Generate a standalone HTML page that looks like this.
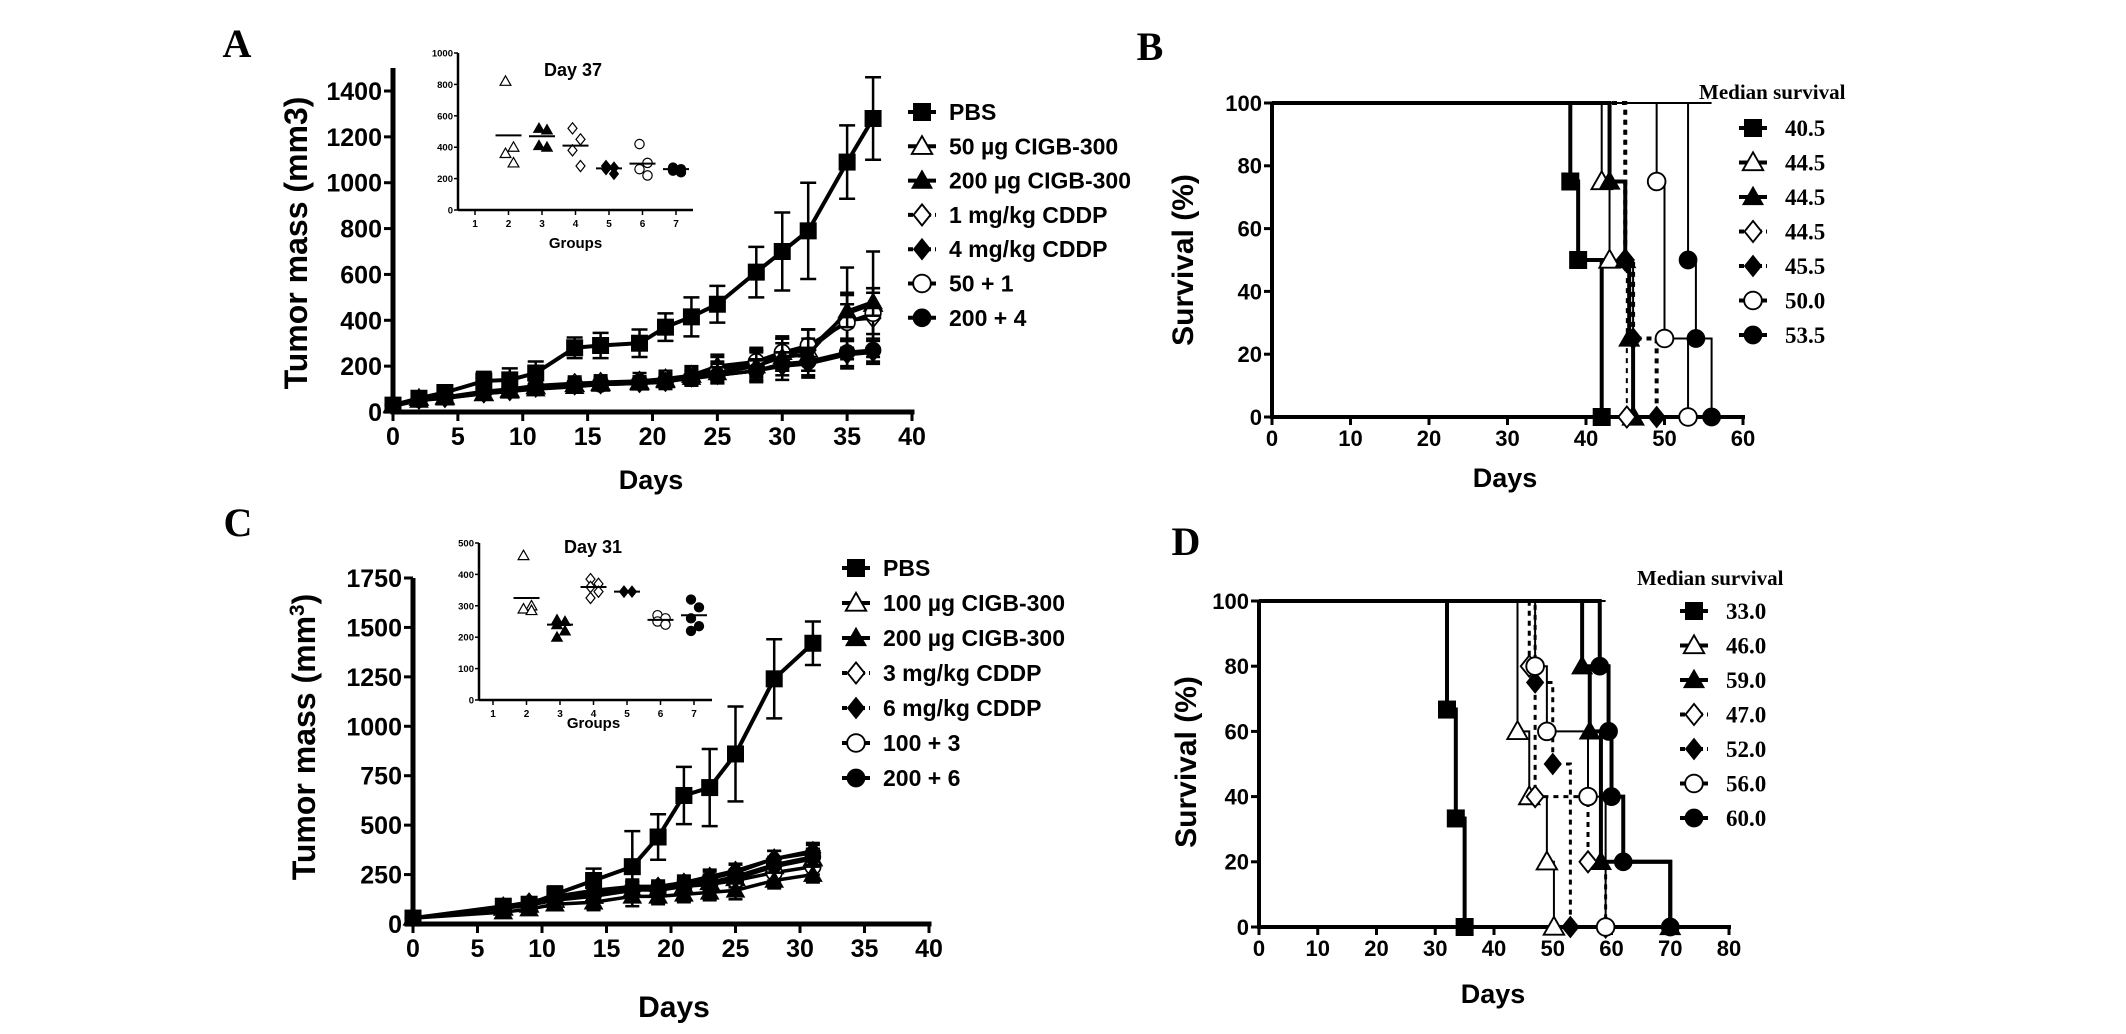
<!DOCTYPE html>
<html><head><meta charset="utf-8"><style>
html,body{margin:0;padding:0;background:#fff;}
svg{display:block;}
text{font-family:"Liberation Sans",sans-serif;font-weight:bold;fill:#000;}
.serif{font-family:"Liberation Serif",serif;}
</style></head><body>
<svg id="fig" width="2126" height="1034" viewBox="0 0 2126 1034" xmlns="http://www.w3.org/2000/svg">
<rect x="0" y="0" width="2126" height="1034" fill="#fff"/>
</svg>
<script>
// ---------- Panel A data ----------
const A_days=[0,2,4,7,9,11,14,16,19,21,23,25,28,30,32,35,37];
const A_pbs=[30,60,85,135,140,170,280,290,300,370,415,470,610,700,790,1090,1280];
const A_pbs_err=[10,15,20,40,50,50,45,55,60,60,85,80,110,170,210,160,180];
const A_ug50=[30,60,65,80,95,110,120,125,130,140,160,200,220,260,270,430,470];
const A_ug50_err=[10,15,15,20,25,25,25,25,25,30,35,50,60,70,90,200,230];
const A_ug200=[25,50,60,80,90,100,110,120,125,135,150,170,200,240,250,440,480];
const A_ug200_err=[10,10,15,20,20,25,25,25,25,30,35,40,60,60,70,70,60];
const A_mg1=[30,55,65,85,100,115,125,130,135,145,160,190,210,250,270,400,410];
const A_mg1_err=[10,10,15,25,30,30,30,30,35,35,40,50,60,70,90,120,130];
const A_mg4=[30,55,60,80,90,105,115,120,125,130,150,160,180,200,210,250,260];
const A_mg4_err=[10,10,15,20,25,25,25,25,25,30,30,35,50,60,60,60,50];
const A_c50=[30,55,65,90,100,110,120,125,130,135,150,180,220,260,290,390,430];
const A_c50_err=[10,10,15,20,25,25,25,25,25,30,30,40,50,60,70,80,90];
const A_c200=[30,55,65,85,95,105,115,120,130,135,145,160,180,210,220,260,270];
const A_c200_err=[10,10,15,20,25,25,25,25,25,25,30,35,45,50,60,60,50];
const A_xticks=[0,5,10,15,20,25,30,35,40];
const A_yticks=[0,200,400,600,800,1000,1200,1400];
const A_labels=["PBS","50 µg CIGB-300","200 µg CIGB-300","1 mg/kg CDDP","4 mg/kg CDDP","50 + 1","200 + 4"];
// Inset A (Day 37)
const AI_groups=[2,3,4,5,6,7];
const AI_points=[[820,400,360,300],[520,510,410,400],[520,450,380,280],[280,270,260,230],[420,300,260,220],[270,260,250,240]];
const AI_means=[475,470,410,265,295,260];
const AI_yticks=[0,200,400,600,800,1000];
const AI_xticks=[1,2,3,4,5,6,7];

// ---------- Panel B data ----------
const B_days=[[38,39,42],[42,43,46],[43,45,45.5,46],[45,45.2],[45,46,49],[49,50,53],[53,54,56]];
const B_surv=[[75,50,0],[75,50,0],[75,50,25,0],[50,0],[50,25,0],[75,25,0],[50,25,0]];
const B_xticks=[0,10,20,30,40,50,60];
const B_yticks=[0,20,40,60,80,100];
const B_medians=["40.5","44.5","44.5","44.5","45.5","50.0","53.5"];

// ---------- Panel C data ----------
const C_days=[0,7,9,11,14,17,19,21,23,25,28,31];
const C_pbs=[30,90,100,150,220,290,440,650,690,860,1240,1420];
const C_pbs_err=[10,20,30,40,60,180,115,145,195,240,200,110];
const C_ug100=[30,80,95,120,140,170,175,190,210,230,290,330];
const C_ug100_err=[10,15,20,25,30,40,35,35,40,40,45,50];
const C_ug200=[30,60,75,100,110,140,140,150,160,170,220,250];
const C_ug200_err=[10,20,25,30,40,50,40,40,40,45,40,40];
const C_mg3=[30,85,100,130,160,180,180,200,230,260,330,360];
const C_mg3_err=[10,20,20,25,30,35,30,35,35,40,40,40];
const C_mg6=[30,90,110,140,170,190,190,210,240,270,330,370];
const C_mg6_err=[10,20,20,25,30,35,30,35,35,35,40,40];
const C_c100=[30,80,95,125,150,175,170,190,200,220,260,290];
const C_c100_err=[10,15,20,25,30,35,30,30,35,35,40,40];
const C_c200=[30,85,100,130,150,180,180,190,210,240,300,340];
const C_c200_err=[10,20,20,25,30,35,30,30,35,35,40,40];
const C_xticks=[0,5,10,15,20,25,30,35,40];
const C_yticks=[0,250,500,750,1000,1250,1500,1750];
const C_labels=["PBS","100 µg CIGB-300","200 µg CIGB-300","3 mg/kg CDDP","6 mg/kg CDDP","100 + 3","200 + 6"];
// Inset C (Day 31)
const CI_groups=[2,3,4,5,6,7];
const CI_points=[[460,300,290,285],[255,250,240,220,200],[385,370,360,345,325],[345,345,345],[270,260,250,240],[320,295,260,235,220]];
const CI_means=[325,240,360,345,255,270];
const CI_yticks=[0,100,200,300,400,500];
const CI_xticks=[1,2,3,4,5,6,7];

// ---------- Panel D data ----------
const D_days=[[32,33.5,35],[44,46,49,50.2],[55,56.3,58.2,70],[46,47,56,59],[47,50,53],[47,49,56,59],[58,59.5,60,62,70]];
const D_surv=[[66.7,33.3,0],[60,40,20,0],[80,60,20,0],[80,40,20,0],[75,50,0],[80,60,40,0],[80,60,40,20,0]];
const D_xticks=[0,10,20,30,40,50,60,70,80];
const D_yticks=[0,20,40,60,80,100];
const D_medians=["33.0","46.0","59.0","47.0","52.0","56.0","60.0"];

const TYPES=["sq","tri-o","tri","dia-o","dia","circ-o","circ"];

// ---------- helpers ----------
const NS="http://www.w3.org/2000/svg";
const svg=document.getElementById('fig');
function mkEl(tag,parent,name){
  const e=document.createElementNS(NS,tag);
  
  
  parent.appendChild(e);
  return e;
}
function setA(e,o){for(const k in o)e.setAttribute(k,o[k]);return e;}
function lin(d0,d1,r0,r1){return v=>r0+(v-d0)*(r1-r0)/(d1-d0);}
function line(p,x1,y1,x2,y2,w,name,dash){
  const l=mkEl('line',p,name);
  setA(l,{x1:x1,y1:y1,x2:x2,y2:y2,stroke:'#000','stroke-width':w});
  if(dash)l.setAttribute('stroke-dasharray',dash);
  return l;
}
function txt(p,x,y,s,size,anchor,name,cls){
  const t=mkEl('text',p,name);
  setA(t,{x:x,y:y,'font-size':size,'text-anchor':anchor||'middle'});
  if(cls)t.setAttribute('class',cls);
  t.textContent=s;
  return t;
}
function marker(p,type,x,y,s,name){
  const open=type.endsWith('-o');
  const base=type.replace('-o','');
  let e;
  if(base==='sq'){e=mkEl('rect',p,name);setA(e,{x:x-s/2,y:y-s/2,width:s,height:s});}
  else if(base==='tri'){e=mkEl('polygon',p,name);setA(e,{points:`${x},${y-s*0.6} ${x-s*0.6},${y+s*0.45} ${x+s*0.6},${y+s*0.45}`});}
  else if(base==='dia'){e=mkEl('polygon',p,name);setA(e,{points:`${x},${y-s*0.62} ${x+s*0.5},${y} ${x},${y+s*0.62} ${x-s*0.5},${y}`});}
  else {e=mkEl('circle',p,name);setA(e,{cx:x,cy:y,r:s*0.52});}
  setA(e,{fill:open?'#fff':'#000',stroke:'#000','stroke-width':open?Math.max(1.2,s/9):1});
  return e;
}
function axes(p,c){
  const g=mkEl('g',p,c.name+'-axes');
  line(g,c.xs(c.xmin),c.ys(c.ymin),c.xs(c.xmax)+c.aw/2,c.ys(c.ymin),c.aw,'x-axis-line');
  line(g,c.xs(c.xmin),c.ytop,c.xs(c.xmin),c.ys(c.ymin)+c.aw/2,c.aw,'y-axis-line');
  c.xticks.forEach(v=>{
    line(g,c.xs(v),c.ys(c.ymin),c.xs(v),c.ys(c.ymin)+c.tl,c.tw,'x-tick');
    txt(g,c.xs(v),c.ys(c.ymin)+c.tl+c.fs*0.95,String(v),c.fs,'middle','x-tick-label');
  });
  c.yticks.forEach(v=>{
    line(g,c.xs(c.xmin)-c.tl,c.ys(v),c.xs(c.xmin),c.ys(v),c.tw,'y-tick');
    txt(g,c.xs(c.xmin)-c.tl-2,c.ys(v)+c.fs*0.36,String(v),c.fs,'end','y-tick-label');
  });
  return g;
}
function growth(p,xs,ys,days,vals,errs,type,lw,ms,name,cap){
  const g=mkEl('g',p,name);
  const pl=mkEl('polyline',g,name+'-line');
  setA(pl,{points:days.map((d,i)=>xs(d)+','+ys(vals[i])).join(' '),fill:'none',stroke:'#000','stroke-width':lw,'stroke-linejoin':'round'});
  days.forEach((d,i)=>{
    const x=xs(d),top=ys(vals[i]+errs[i]),bot=ys(Math.max(0,vals[i]-errs[i]));
    line(g,x,top,x,bot,2.5,name+'-error-bar');
    line(g,x-cap,top,x+cap,top,2.5,name+'-error-cap');
    line(g,x-cap,bot,x+cap,bot,2.5,name+'-error-cap');
  });
  days.forEach((d,i)=>{marker(g,type,xs(d),ys(vals[i]),ms,name+'-point');});
}
function survival(p,xs,ys,days,surv,type,lw,ms,name,dash){
  const g=mkEl('g',p,name);
  let pts=[[0,100]];let lvl=100;
  days.forEach((d,i)=>{pts.push([d,lvl]);pts.push([d,surv[i]]);lvl=surv[i];});
  const pl=mkEl('polyline',g,name+'-line');
  setA(pl,{points:pts.map(q=>xs(q[0])+','+ys(q[1])).join(' '),fill:'none',stroke:'#000','stroke-width':lw});
  if(dash)pl.setAttribute('stroke-dasharray',dash);
  days.forEach((d,i)=>{marker(g,type,xs(d),ys(surv[i]),ms,name+'-point');});
}
function inset(p,c,groups,points,means,name){
  const g=mkEl('g',p,name);
  line(g,c.ax,c.ys(0),c.xend,c.ys(0),2.5,'inset-x-axis');
  line(g,c.ax,c.ys(c.ymax),c.ax,c.ys(0),2.5,'inset-y-axis');
  c.yticks.forEach(v=>{line(g,c.ax-4,c.ys(v),c.ax,c.ys(v),1.5,'inset-y-tick');txt(g,c.ax-5,c.ys(v)+3.5,String(v),9.5,'end','inset-y-tick-label');});
  c.xticks.forEach(v=>{line(g,c.gx(v),c.ys(0),c.gx(v),c.ys(0)+5,1.5,'inset-x-tick');txt(g,c.gx(v),c.ys(0)+17,String(v),10,'middle','inset-x-tick-label');});
  groups.forEach((gr,i)=>{
    points[i].forEach((v,j)=>{const off=(j%2?5:-3);marker(g,TYPES[gr-1],c.gx(gr)+off,c.ys(v),9,'inset-point-group-'+gr);});
    line(g,c.gx(gr)-13,c.ys(means[i]),c.gx(gr)+13,c.ys(means[i]),2,'inset-mean-line-group-'+gr);
  });
  txt(g,c.titleX,c.titleY,c.title,18,'middle','inset-title');
  txt(g,c.gx(4),c.groupsY,'Groups',15,'middle','inset-x-axis-title');
}
function legendSans(p,x,y0,dy,labels,name){
  const g=mkEl('g',p,name);
  labels.forEach((s,i)=>{
    const y=y0+i*dy;
    const dashed=(i===3||i===4);
    line(g,x-14,y,x+14,y,4,'legend-line',dashed?'5,4':null);
    marker(g,TYPES[i],x,y,17,'legend-marker');
    txt(g,x+27,y+8,s,23,'start','legend-entry');
  });
}
function legendSerif(p,x,y0,dy,labels,title,tx,ty,name){
  const g=mkEl('g',p,name);
  txt(g,tx,ty,title,21,'start','legend-title','serif');
  labels.forEach((s,i)=>{
    const y=y0+i*dy;
    const dashed=(i===3||i===4);
    line(g,x-14,y,x+14,y,4,'legend-line',dashed?'5,4':null);
    marker(g,TYPES[i],x,y,17,'legend-marker');
    txt(g,x+32,y+8,s,23,'start','legend-entry','serif');
  });
}
function rotLabel(p,x,y,content,size,name,sup){
  const t=mkEl('text',p,name);
  setA(t,{x:0,y:0,'font-size':size,'text-anchor':'middle',transform:`translate(${x},${y}) rotate(-90)`});
  t.textContent=content;
  if(sup){const ts=mkEl('tspan',t,'superscript');setA(ts,{'font-size':size*0.65,dy:-size*0.35});ts.textContent=sup;
    const ts2=mkEl('tspan',t,'closing-paren');setA(ts2,{dy:size*0.35});ts2.textContent=')';}
  return t;
}

// ---------- Panel A ----------
(function(){
  const p=mkEl('g',svg,'panel-a');
  txt(p,237,57,'A',40,'middle','panel-label-a','serif');
  const xs=lin(0,40,393,912), ys=lin(0,1400,412,91);
  axes(p,{name:'panel-a',xs:xs,ys:ys,xmin:0,xmax:40,ymin:0,ymax:1400,xticks:A_xticks,yticks:A_yticks,ytop:68,aw:5,tl:9,tw:3,fs:25});
  rotLabel(p,307,243,'Tumor mass (mm3)',32,'y-axis-title');
  txt(p,651,489,'Days',27,'middle','x-axis-title');
  const series=[[A_ug50,A_ug50_err,'tri-o','series-50ug'],[A_mg1,A_mg1_err,'dia-o','series-1mgkg'],[A_c50,A_c50_err,'circ-o','series-50-plus-1'],[A_ug200,A_ug200_err,'tri','series-200ug'],[A_mg4,A_mg4_err,'dia','series-4mgkg'],[A_c200,A_c200_err,'circ','series-200-plus-4']];
  series.forEach(s=>growth(p,xs,ys,A_days,s[0],s[1],s[2],3.5,15,s[3],7));
  growth(p,xs,ys,A_days,A_pbs,A_pbs_err,'sq',4,16,'series-pbs',8);
  legendSans(p,922,112,34.3,A_labels,'legend-a');
  const gx=g=>475+(g-1)*33.5;
  inset(p,{ax:458,xend:693,ys:lin(0,1000,210,53),ymax:1000,gx:gx,yticks:AI_yticks,xticks:AI_xticks,title:'Day 37',titleX:573,titleY:76,groupsY:248},AI_groups,AI_points,AI_means,'inset-a');
})();

// ---------- Panel B ----------
(function(){
  const p=mkEl('g',svg,'panel-b');
  txt(p,1150,60,'B',40,'middle','panel-label-b','serif');
  const xs=lin(0,60,1272,1743), ys=lin(0,100,417,103);
  axes(p,{name:'panel-b',xs:xs,ys:ys,xmin:0,xmax:60,ymin:0,ymax:100,xticks:B_xticks,yticks:B_yticks,ytop:103,aw:4,tl:8,tw:3,fs:22});
  line(p,xs(0),ys(100),xs(56),ys(100),2,'survival-top-line');
  rotLabel(p,1193,260,'Survival (%)',30,'y-axis-title');
  txt(p,1505,487,'Days',27,'middle','x-axis-title');
  const lw=[4,2,4,2,4,2,2], dash=[null,null,null,'5,5','5,5',null,null];
  B_days.forEach((d,i)=>survival(p,xs,ys,d,B_surv[i],TYPES[i],lw[i],17,'survival-series-b-'+(i+1),dash[i]));
  legendSerif(p,1753,128,34.5,B_medians,'Median survival',1699,99,'legend-b');
})();

// ---------- Panel C ----------
(function(){
  const p=mkEl('g',svg,'panel-c');
  txt(p,238,536,'C',40,'middle','panel-label-c','serif');
  const xs=lin(0,40,413,929), ys=lin(0,1750,924,578);
  axes(p,{name:'panel-c',xs:xs,ys:ys,xmin:0,xmax:40,ymin:0,ymax:1750,xticks:C_xticks,yticks:C_yticks,ytop:578,aw:5,tl:9,tw:3,fs:25});
  rotLabel(p,315,737,'Tumor mass (mm',32,'y-axis-title','3');
  txt(p,674,1017,'Days',30,'middle','x-axis-title');
  const series=[[C_ug100,C_ug100_err,'tri-o','series-100ug'],[C_mg3,C_mg3_err,'dia-o','series-3mgkg'],[C_c100,C_c100_err,'circ-o','series-100-plus-3'],[C_mg6,C_mg6_err,'dia','series-6mgkg'],[C_c200,C_c200_err,'circ','series-200-plus-6'],[C_ug200,C_ug200_err,'tri','series-200ug']];
  series.forEach(s=>growth(p,xs,ys,C_days,s[0],s[1],s[2],3.5,15,s[3],7));
  growth(p,xs,ys,C_days,C_pbs,C_pbs_err,'sq',4,16,'series-pbs',8);
  legendSans(p,856,568,35,C_labels,'legend-c');
  const gx=g=>493+(g-1)*33.5;
  inset(p,{ax:479,xend:712,ys:lin(0,500,700,543),ymax:500,gx:gx,yticks:CI_yticks,xticks:CI_xticks,title:'Day 31',titleX:593,titleY:553,groupsY:728},CI_groups,CI_points,CI_means,'inset-c');
})();

// ---------- Panel D ----------
(function(){
  const p=mkEl('g',svg,'panel-d');
  txt(p,1186,555,'D',40,'middle','panel-label-d','serif');
  const xs=lin(0,80,1259,1729), ys=lin(0,100,927,601);
  axes(p,{name:'panel-d',xs:xs,ys:ys,xmin:0,xmax:80,ymin:0,ymax:100,xticks:D_xticks,yticks:D_yticks,ytop:601,aw:4,tl:8,tw:3,fs:22});
  line(p,xs(0),ys(100),xs(59),ys(100),2,'survival-top-line');
  rotLabel(p,1196,762,'Survival (%)',30,'y-axis-title');
  txt(p,1493,1003,'Days',27,'middle','x-axis-title');
  const lw=[4,2,4,3,3,2,4], dash=[null,null,null,'5,5','5,5',null,null];
  D_days.forEach((d,i)=>survival(p,xs,ys,d,D_surv[i],TYPES[i],lw[i],17,'survival-series-d-'+(i+1),dash[i]));
  legendSerif(p,1694,611,34.5,D_medians,'Median survival',1637,585,'legend-d');
})();
</script>
</body></html>
